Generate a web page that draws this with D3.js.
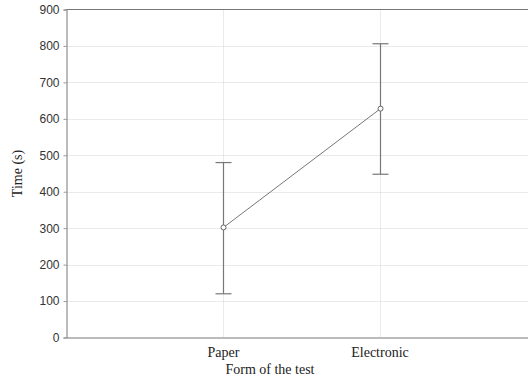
<!DOCTYPE html>
<html>
<head>
<meta charset="utf-8">
<script src="https://cdn.jsdelivr.net/npm/d3@7"></script>
<style>
  body { margin: 0; background: #fff; }
  svg { display: block; }
</style>
</head>
<body>
<svg id="chart" width="528" height="382"></svg>
<script>
// values
var categories = ["Paper", "Electronic"];
var means = [302, 628];
var upper = [480, 806];
var lower = [120, 448];
var yTicks = [0, 100, 200, 300, 400, 500, 600, 700, 800, 900];

var svg = d3.select("#chart");
var plotLeft = 66.5, plotTop = 9.5, plotBottom = 337.5, plotRight = 536;

var x = d3.scaleLinear().domain([0, 3]).range([plotLeft, plotRight]);
var y = d3.scaleLinear().domain([0, 900]).range([plotBottom, plotTop]);

function px(i) { return Math.round(x(i + 1)) + 0.5; }

// grid
var grid = svg.append("g")
    .attr("stroke", "#d4d4d4")
    .attr("stroke-dasharray", "1,1");

grid.selectAll("line.h")
    .data(yTicks.slice(1, -1))
    .enter().append("line")
    .attr("x1", plotLeft).attr("x2", plotRight)
    .attr("y1", function(d) { return Math.round(y(d)) + 0.5; })
    .attr("y2", function(d) { return Math.round(y(d)) + 0.5; });

grid.selectAll("line.v")
    .data(categories)
    .enter().append("line")
    .attr("x1", function(d, i) { return px(i); })
    .attr("x2", function(d, i) { return px(i); })
    .attr("y1", plotTop).attr("y2", plotBottom);

// axes
var yAxis = svg.append("g")
    .attr("transform", "translate(" + plotLeft + ",0)")
    .call(d3.axisLeft(y).tickValues(yTicks).tickSize(3).tickPadding(4));
yAxis.select(".domain").attr("stroke", "#777");
yAxis.selectAll(".tick line").attr("stroke", "#999");
yAxis.selectAll(".tick text")
    .attr("font-family", "Liberation Sans, Arial, sans-serif")
    .attr("font-size", 12)
    .attr("fill", "#333");

var xAxis = svg.append("g")
    .attr("transform", "translate(0," + plotBottom + ")")
    .call(d3.axisBottom(x).tickValues([1, 2])
        .tickFormat(function(d) { return categories[d - 1]; })
        .tickSize(0).tickPadding(10));
xAxis.select(".domain").attr("stroke", "#777");
xAxis.selectAll(".tick text")
    .attr("font-family", "Liberation Serif, Times New Roman, serif")
    .attr("font-size", 14)
    .attr("fill", "#222");

// top frame line
svg.append("line")
    .attr("x1", plotLeft).attr("x2", plotRight)
    .attr("y1", plotTop).attr("y2", plotTop)
    .attr("stroke", "#777");

// axis titles
svg.append("text")
    .attr("transform", "translate(22," + ((plotTop + plotBottom) / 2) + ") rotate(-90)")
    .attr("text-anchor", "middle")
    .attr("font-family", "Liberation Serif, Times New Roman, serif")
    .attr("font-size", 14)
    .attr("fill", "#222")
    .text("Time (s)");

svg.append("text")
    .attr("x", 270).attr("y", 374)
    .attr("text-anchor", "middle")
    .attr("font-family", "Liberation Serif, Times New Roman, serif")
    .attr("font-size", 14)
    .attr("fill", "#222")
    .text("Form of the test");

// error bars
var bars = svg.append("g").attr("stroke", "#777").attr("stroke-width", 1.2);
categories.forEach(function(c, i) {
    var cx = px(i);
    bars.append("line")
        .attr("x1", cx).attr("x2", cx)
        .attr("y1", y(lower[i])).attr("y2", y(upper[i]));
    [lower[i], upper[i]].forEach(function(v) {
        bars.append("line")
            .attr("x1", cx - 8).attr("x2", cx + 8)
            .attr("y1", y(v)).attr("y2", y(v));
    });
});

// mean line
var line = d3.line()
    .x(function(d, i) { return px(i); })
    .y(function(d) { return y(d); });

svg.append("path")
    .datum(means)
    .attr("d", line)
    .attr("fill", "none")
    .attr("stroke", "#777")
    .attr("stroke-width", 1);

svg.selectAll("circle.mean")
    .data(means)
    .enter().append("circle")
    .attr("cx", function(d, i) { return px(i); })
    .attr("cy", function(d) { return y(d); })
    .attr("r", 2.5)
    .attr("fill", "#fff")
    .attr("stroke", "#666")
    .attr("stroke-width", 1);
</script>
</body>
</html>
